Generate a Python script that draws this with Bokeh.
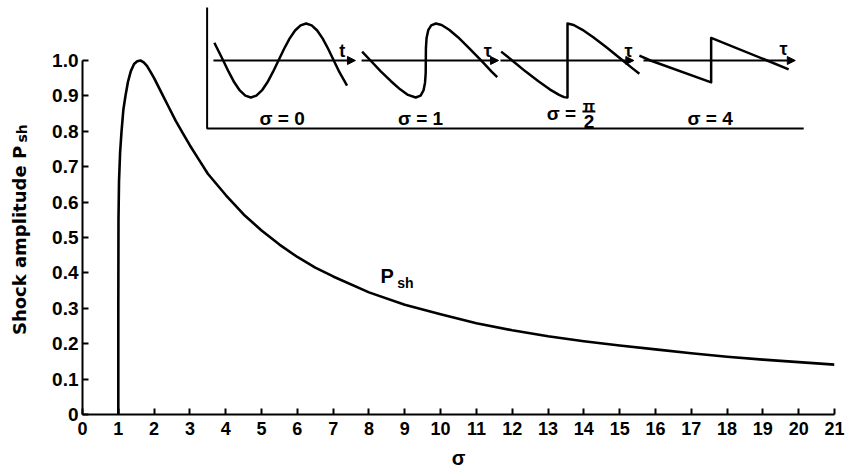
import math
from bokeh.plotting import figure
from bokeh.models import Range1d, FixedTicker, Label, Arrow, NormalHead
from bokeh.embed import file_html
from bokeh.resources import INLINE

# ---------------- data ----------------
sigma = [1.0, 1.0, 1.005, 1.02, 1.05, 1.09, 1.14, 1.2, 1.27, 1.35, 1.44, 1.53, 1.62,
         1.71, 1.8, 1.9, 2.0, 2.2, 2.4, 2.6, 2.8, 3.0, 3.25, 3.5, 4.0, 4.5, 5.0, 5.5,
         6.0, 6.5, 7.0, 8.0, 9.0, 10.0, 11.0, 12.0, 13.0, 14.0, 15.0, 16.0, 17.0,
         18.0, 19.0, 20.0, 21.0]
p_sh = [0.0, 0.3, 0.55, 0.66, 0.74, 0.80, 0.86, 0.90, 0.94, 0.97, 0.99, 0.998, 1.0,
        0.995, 0.985, 0.968, 0.95, 0.91, 0.87, 0.83, 0.795, 0.76, 0.72, 0.68, 0.62,
        0.565, 0.52, 0.48, 0.445, 0.415, 0.39, 0.345, 0.31, 0.283, 0.258, 0.238,
        0.221, 0.207, 0.195, 0.184, 0.173, 0.163, 0.155, 0.148, 0.141]

x_ticks = list(range(0, 22))
y_ticks = [0, 0.1, 0.2, 0.3, 0.4, 0.5, 0.6, 0.7, 0.8, 0.9, 1.0]
y_tick_labels = ["0", "0.1", "0.2", "0.3", "0.4", "0.5", "0.6", "0.7", "0.8", "0.9", "1.0"]
x_title = "σ"
y_title = "Shock amplitude P"
y_title_sub = "sh"

# inset waveforms: phase (in periods) vs normalised pressure
w1_u = [-0.08, 0.0, 0.05, 0.1, 0.15, 0.2, 0.25, 0.3, 0.35, 0.4, 0.45, 0.5, 0.55, 0.6,
        0.65, 0.7, 0.75, 0.8, 0.85, 0.9, 0.95, 1.0, 1.05, 1.12]
w1_v = [0.48, 0.0, -0.31, -0.59, -0.81, -0.95, -1.0, -0.95, -0.81, -0.59, -0.31, 0.0,
        0.31, 0.59, 0.81, 0.95, 1.0, 0.95, 0.81, 0.59, 0.31, 0.0, -0.31, -0.68]
w2_u = [-0.076, 0.0, 0.095, 0.185, 0.268, 0.339, 0.409, 0.453, 0.479, 0.493, 0.499,
        0.5, 0.501, 0.507, 0.522, 0.549, 0.591, 0.643, 0.711, 0.791, 0.880, 1.0,
        1.095, 1.146]
w2_v = [0.24, 0.0, -0.30, -0.56, -0.78, -0.93, -1.0, -0.95, -0.81, -0.60, -0.34, 0.0,
        0.33, 0.61, 0.82, 0.95, 1.0, 0.96, 0.83, 0.63, 0.37, 0.0, -0.30, -0.45]
w3_u = [-0.1, 0.0, 0.122, 0.237, 0.339, 0.424, 0.469, 0.5, 0.5, 0.556, 0.635, 0.733,
        0.846, 1.0, 1.082, 1.15]
w3_v = [0.24, 0.0, -0.30, -0.56, -0.78, -0.93, -0.99, -1.0, 1.0, 0.96, 0.83, 0.63,
        0.37, 0.0, -0.20, -0.36]
w4_u = [-0.1, 0.0, 0.549, 0.549, 1.055, 1.25]
w4_v = [0.13, 0.0, -0.59, 0.61, 0.0, -0.24]

wave_u = [w1_u, w2_u, w3_u, w4_u]
wave_v = [w1_v, w2_v, w3_v, w4_v]
wave_axis_names = ["t", "τ", "τ", "τ"]
wave_titles = ["σ = 0", "σ = 1", None, "σ = 4"]

# ---------------- layout constants ----------------
FONT = "Liberation Sans"
PW = 3.088        # one period of inset wave, in x units
AH = 0.1045       # unit amplitude of inset wave, in y units
AXIS_Y = 1.0      # inset time axes height
ORIGINS = [3.929, 8.043, 12.0, 15.86]
AX_START = [-0.088, -0.081, -0.106, -0.063]
AX_END = [1.196, 1.158, 1.10, 1.31]
NAME_U = [1.077, 1.06, 1.052, 1.203]
NAME_V = [0.27, 0.27, 0.27, 0.32]
TITLE_U = [0.533, 0.452, None, 0.54]
TITLE_V = -1.568


def ix(k, u):
    return ORIGINS[k] + u * PW


def iy(v):
    return AXIS_Y + v * AH


def txt(x, y, text, size, font=FONT, angle=0.0, baseline="middle"):
    return Label(x=x, y=y, text=text, angle=angle, text_font=font,
                 text_font_style="bold", text_font_size=size, text_color="black",
                 text_align="center", text_baseline=baseline)


p = figure(width=845, height=471, x_range=Range1d(0, 21), y_range=Range1d(0, 1.161),
           output_backend="svg", toolbar_location=None,
           min_border_left=82, min_border_right=11, min_border_top=3,
           min_border_bottom=57)
p.grid.visible = False
p.outline_line_color = None
p.background_fill_color = "white"
p.border_fill_color = "white"

for ax in (p.xaxis, p.yaxis):
    ax.axis_line_width = 2
    ax.axis_line_color = "black"
    ax.major_tick_line_width = 2
    ax.major_tick_line_color = "black"
    ax.major_tick_in = 6
    ax.major_tick_out = 0
    ax.minor_tick_line_color = None
    ax.major_label_text_font = FONT
    ax.major_label_text_font_style = "bold"
    ax.major_label_text_color = "black"

p.xaxis.major_label_text_font_size = "18px"
p.yaxis.major_label_text_font_size = "19px"
p.xaxis.ticker = FixedTicker(ticks=x_ticks)
p.yaxis.ticker = FixedTicker(ticks=y_ticks)
p.yaxis.major_label_overrides = {t: l for t, l in zip(y_ticks, y_tick_labels)}
p.yaxis.bounds = (0, 1.0)
p.yaxis.major_label_standoff = 4
p.xaxis.major_label_standoff = 7

# main curve
p.line(sigma, p_sh, line_width=2.6, line_color="black", line_join="round")

# curve label
p.add_layout(txt(8.51, 0.391, "P", "20px"))
p.add_layout(txt(9.02, 0.371, "sh", "14px"))

# axis titles (placed in the side panels so they are not clipped to the frame)
p.add_layout(txt(-1.76, 0.4915, y_title, "18px", font="DejaVu Sans",
                 angle=math.pi / 2), "left")
p.add_layout(txt(-1.70, 0.794, y_title_sub, "14px", font="DejaVu Sans",
                 angle=math.pi / 2), "left")
p.add_layout(txt(10.5, -0.122, x_title, "20px"), "below")

# inset frame
p.line([3.48, 3.48, 20.14], [1.15, 0.808, 0.808], line_width=2, line_color="black")

for k in range(4):
    p.add_layout(Arrow(x_start=ix(k, AX_START[k]), y_start=AXIS_Y,
                       x_end=ix(k, AX_END[k]), y_end=AXIS_Y, line_width=2,
                       end=NormalHead(size=8, fill_color="black", line_color="black")))
    p.line([ix(k, u) for u in wave_u[k]], [iy(v) for v in wave_v[k]],
           line_width=2.5, line_color="black", line_join="round")
    p.add_layout(txt(ix(k, NAME_U[k]), iy(NAME_V[k]), wave_axis_names[k], "18px"))
    if wave_titles[k] is not None:
        p.add_layout(txt(ix(k, TITLE_U[k]), iy(TITLE_V), wave_titles[k], "19px"))

# sigma = pi/2 label with a stacked fraction
p.add_layout(txt(ix(2, 0.446), iy(-1.446), "σ =", "19px"))
p.add_layout(txt(ix(2, 0.694), iy(-1.243), "π", "16px"))
p.add_layout(txt(ix(2, 0.694), iy(-1.662), "2", "19px"))
p.line([ix(2, 0.635), ix(2, 0.752)], [iy(-1.378), iy(-1.378)], line_width=2,
       line_color="black")

open("out.html", "w").write(file_html(p, INLINE))
